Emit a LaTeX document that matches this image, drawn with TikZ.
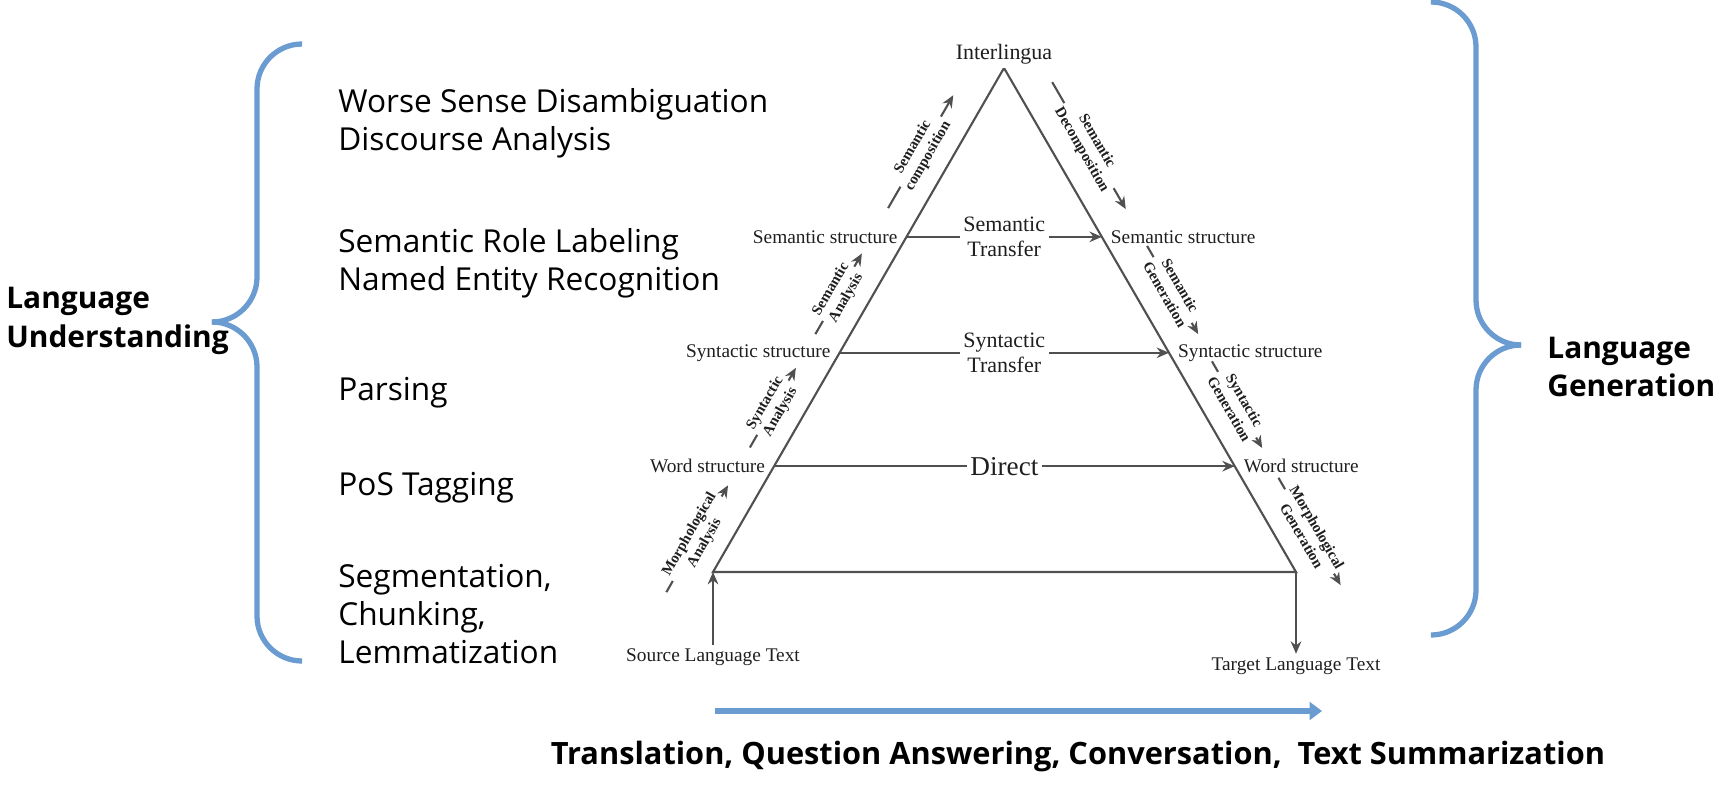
\documentclass[tikz,border=0pt]{standalone}
\usepackage{fontspec}
\setmainfont{Liberation Serif}
\newfontfamily\gothic{Open Sans}
\definecolor{braceblue}{RGB}{106,155,209}
\definecolor{inkgray}{RGB}{80,80,80}
\colorlet{ink}{inkgray}
\colorlet{print}{black!88}
\usetikzlibrary{calc, positioning, arrows.meta}

\begin{document}
\begin{tikzpicture}[x=0.2mm, y=-0.2mm,
    edge/.style={draw=ink, line width=1.2pt},
    flow/.style={ink, line width=1.2pt, -{Stealth[length=7pt,width=6pt]}},
    level/.style={font=\fontsize{11}{13}\selectfont, text=print, inner sep=2pt},
    stage/.style={font=\bfseries\fontsize{8.5}{10}\selectfont, text=print, align=center,
      fill=white, inner sep=1pt, sloped},
    transfer/.style={font=\fontsize{12.5}{14.5}\selectfont, text=print, align=center,
      fill=white, inner sep=2pt},
    task/.style={font=\gothic\fontsize{18}{21.8}\selectfont, align=left, anchor=west,
      inner sep=0pt},
    side/.style={font=\gothic\bfseries\fontsize{17}{21.8}\selectfont, align=left,
      anchor=west, inner sep=0pt},
    brace/.style={braceblue, line width=3pt, rounded corners=9mm},
  ]
  \useasboundingbox (0,0) rectangle (1720,808);

  \coordinate (top) at (1004,68);
  \coordinate (bl) at (713,572);
  \coordinate (br) at (1296,572);
  \draw[edge] (bl) -- (top) -- (br) -- cycle;

  \coordinate (semL) at ($(bl)!0.665!(top)$);
  \coordinate (semR) at ($(br)!0.665!(top)$);
  \coordinate (synL) at ($(bl)!0.435!(top)$);
  \coordinate (synR) at ($(br)!0.435!(top)$);
  \coordinate (wrdL) at ($(bl)!0.21!(top)$);
  \coordinate (wrdR) at ($(br)!0.21!(top)$);

  \node[transfer, anchor=south] (inter) at (top) {Interlingua};
  \node[level, anchor=east] (semLlab) at ([xshift=-3pt]semL) {Semantic structure};
  \node[level, anchor=west] (semRlab) at ([xshift=3pt]semR) {Semantic structure};
  \node[level, anchor=east] (synLlab) at ([xshift=-3pt]synL) {Syntactic structure};
  \node[level, anchor=west] (synRlab) at ([xshift=3pt]synR) {Syntactic structure};
  \node[level, anchor=east] (wrdLlab) at ([xshift=-3pt]wrdL) {Word structure};
  \node[level, anchor=west] (wrdRlab) at ([xshift=3pt]wrdR) {Word structure};

  \draw[flow] (semL) -- node[transfer] (semT) {Semantic\\Transfer} (semR);
  \draw[flow] (synL) -- node[transfer] (synT) {Syntactic\\Transfer} (synR);
  \draw[flow] (wrdL) -- node[transfer, font=\fontsize{15.5}{17}\selectfont] (direct) {Direct} (wrdR);

  \node[level] (src) at ($(bl)+(0,85)$) {Source Language Text};
  \node[level] (tgt) at ($(br)+(0,94)$) {Target Language Text};
  \draw[flow] (src) -- (bl);
  \draw[flow] (br) -- (tgt);

  % analysis side
  \coordinate (ma0) at ($(bl)!-0.04!(top)+(-35,0)$);
  \coordinate (ma1) at ($(bl)!0.172!(top)+(-35,0)$);
  \coordinate (sa0) at ($(bl)!0.247!(top)+(-35,0)$);
  \coordinate (sa1) at ($(bl)!0.405!(top)+(-35,0)$);
  \coordinate (ea0) at ($(bl)!0.472!(top)+(-35,0)$);
  \coordinate (ea1) at ($(bl)!0.632!(top)+(-35,0)$);
  \coordinate (ec0) at ($(bl)!0.722!(top)+(-35,0)$);
  \coordinate (ec1) at ($(bl)!0.946!(top)+(-35,0)$);
  \draw[flow] (ma0) -- node[stage] (morA) {Morphological\\Analysis} (ma1);
  \draw[flow] (sa0) -- node[stage] (synA) {Syntactic\\Analysis} (sa1);
  \draw[flow] (ea0) -- node[stage] (semA) {Semantic\\Analysis} (ea1);
  \draw[flow] (ec0) -- node[stage] (semC) {Semantic\\composition} (ec1);

  % generation side
  \coordinate (ed0) at ($(br)!0.972!(top)+(40,0)$);
  \coordinate (ed1) at ($(br)!0.720!(top)+(40,0)$);
  \coordinate (eg0) at ($(br)!0.647!(top)+(40,0)$);
  \coordinate (eg1) at ($(br)!0.472!(top)+(40,0)$);
  \coordinate (sg0) at ($(br)!0.418!(top)+(38,0)$);
  \coordinate (sg1) at ($(br)!0.246!(top)+(38,0)$);
  \coordinate (mg0) at ($(br)!0.187!(top)+(37,0)$);
  \coordinate (mg1) at ($(br)!-0.026!(top)+(37,0)$);
  \draw[flow] (ed0) -- node[stage] (semD) {Semantic\\Decomposition} (ed1);
  \draw[flow] (eg0) -- node[stage] (semG) {Semantic\\Generation} (eg1);
  \draw[flow] (sg0) -- node[stage] (synG) {Syntactic\\Generation} (sg1);
  \draw[flow] (mg0) -- node[stage] (morG) {Morphological\\Generation} (mg1);

  % tasks and braces
  \node[task] (wsd) at (338,123) {Worse Sense Disambiguation\\Discourse Analysis};
  \node[task] (srl) at (338,263) {Semantic Role Labeling\\Named Entity Recognition};
  \node[task] (pars) at (338,393) {Parsing};
  \node[task] (pos) at (338,488) {PoS Tagging};
  \node[task] (seg) at (338,614) {Segmentation,\\Chunking,\\Lemmatization};

  \draw[brace] (302,44) -- (257,44) -- (257,322) -- (212,322);
  \draw[brace] (212,322) -- (257,322) -- (257,661) -- (302,661);
  \node[side] (nlu) at (6,321) {Language\\Understanding};

  \draw[brace] (1431,2) -- (1476,2) -- (1476,345) -- (1521,345);
  \draw[brace] (1521,345) -- (1476,345) -- (1476,635) -- (1431,635);
  \node[side] (nlg) at (1547,367) {Language\\Generation};

  \coordinate (flowL) at (715,711);
  \coordinate (flowR) at (1322,711);
  \draw[braceblue, line width=3.4pt, -{Triangle[length=7pt,width=10pt]}] (flowL) -- (flowR);
  \node[font=\gothic\bfseries\fontsize{17.5}{21}\selectfont, inner sep=0pt] (apps) at (1078,757)
    {Translation, Question Answering, Conversation,\ \ Text Summarization};
\end{tikzpicture}
\end{document}
